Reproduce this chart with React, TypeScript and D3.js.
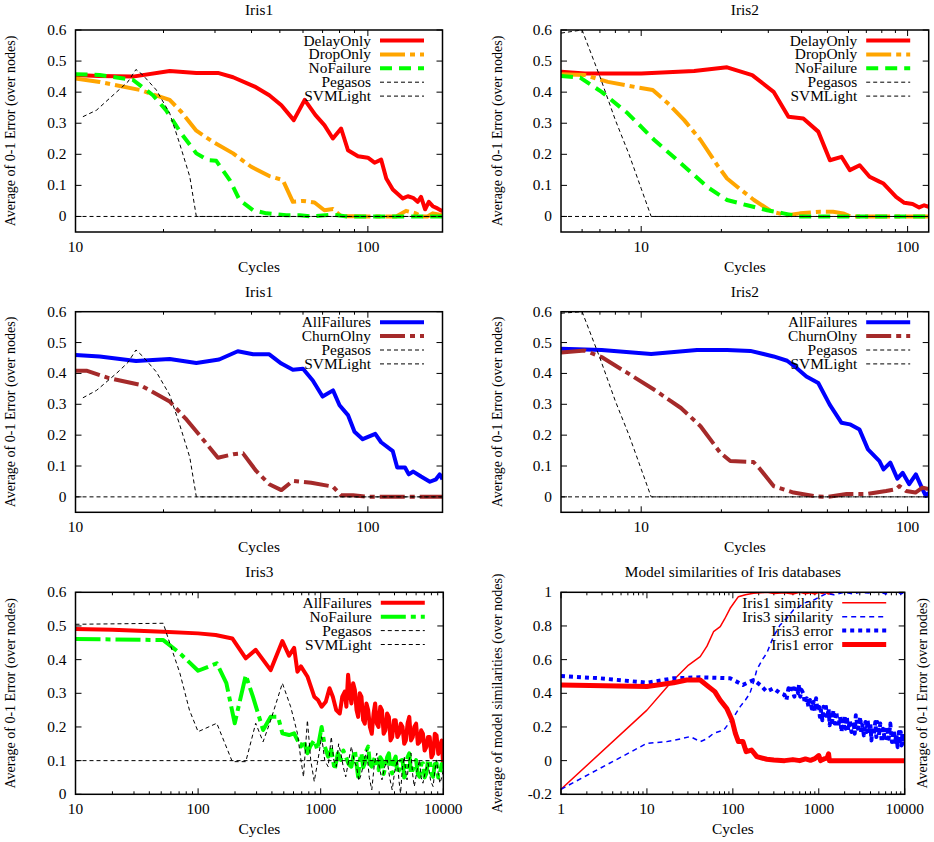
import React from 'react';
import * as d3 from 'd3';

type Pt = [number, number];

// ---------- Panel 1 : Iris1 (failure types) ----------
const p1DelayOnly: Pt[] = [[10,0.455],[12,0.452],[15.7,0.45],[21,0.468],[25.9,0.462],[30.7,0.462],[34.6,0.448],[41,0.418],[46,0.39],[50.6,0.358],[55.8,0.31],[60.8,0.375],[66.2,0.326],[71,0.294],[75.9,0.251],[81,0.283],[85.5,0.213],[92.5,0.194],[100,0.189],[105.4,0.173],[111,0.183],[115.6,0.122],[121.7,0.087],[131.7,0.058],[137,0.065],[142.7,0.06],[148,0.047],[152,0.063],[157,0.023],[161.6,0.047],[166.7,0.033],[173,0.026],[180,0.017]];
const p1DropOnly: Pt[] = [[10,0.444],[12.1,0.433],[16.6,0.407],[18.4,0.393],[21,0.375],[23,0.337],[25.9,0.276],[29.5,0.24],[34.6,0.203],[39.9,0.16],[46,0.13],[51.2,0.117],[55.4,0.047],[60,0.05],[65.7,0.045],[71,0.02],[76,0.024],[81,0.001],[89,0.001],[100,0],[125,0],[135,0.018],[146,0.01],[152,0],[160,0],[167,0.01],[180,0.004]];
const p1NoFailure: Pt[] = [[10,0.458],[12.1,0.455],[15.7,0.44],[18.4,0.39],[20.4,0.342],[23,0.267],[25.9,0.203],[28.4,0.181],[30.3,0.179],[33.7,0.117],[36.4,0.053],[40.5,0.02],[45,0.01],[52.6,0.004],[58.5,0.004],[64,0],[76,0.006],[85,0],[180,0]];
const p1Pegasos: Pt[] = [[10.6,0.321],[11.8,0.342],[13.8,0.4],[15.1,0.433],[16.1,0.473],[17,0.455],[18.9,0.407],[21,0.332],[22.7,0.235],[24.6,0.128],[25.9,0],[180,0]];
const p1SVMLight: Pt[] = [[10,0],[180,0]];

// ---------- Panel 2 : Iris2 (failure types) ----------
const p2DelayOnly: Pt[] = [[5,0.466],[6.15,0.46],[10,0.46],[15.8,0.468],[21,0.48],[26.1,0.455],[31.4,0.401],[35.7,0.321],[40.6,0.315],[46.2,0.273],[51.1,0.181],[56.5,0.192],[60.7,0.149],[66.1,0.165],[72,0.128],[78.4,0.112],[81.2,0.106],[90.5,0.063],[97.2,0.044],[104.4,0.04],[110.5,0.029],[115.4,0.036],[120,0.031]];
const p2DropOnly: Pt[] = [[5,0.458],[6.15,0.455],[7.5,0.433],[9.7,0.415],[11.05,0.407],[12.6,0.364],[14.5,0.31],[16.7,0.246],[19.3,0.165],[21,0.122],[23.6,0.087],[26.5,0.053],[31,0.015],[35.3,0.004],[39.4,0.01],[46.8,0.015],[52.5,0.015],[57.3,0.01],[61,0],[120,0]];
const p2NoFailure: Pt[] = [[5,0.452],[5.9,0.447],[7.1,0.401],[8.9,0.332],[11.2,0.246],[14.1,0.171],[17.7,0.095],[21,0.053],[25,0.036],[29.7,0.02],[34.2,0.01],[39,0],[120,0]];
const p2Pegasos: Pt[] = [[5,0.59],[6,0.6],[7,0.45],[8,0.31],[9,0.2],[10,0.09],[10.9,0],[120,0]];
const p2SVMLight: Pt[] = [[5,0],[120,0]];

// ---------- Panel 3 : Iris1 (all failures / churn) ----------
const p3AllFailures: Pt[] = [[10,0.46],[12.1,0.455],[16.1,0.44],[21,0.447],[25.9,0.434],[31,0.445],[35.9,0.472],[40.5,0.462],[46,0.462],[50.6,0.432],[55.4,0.412],[60,0.415],[64.8,0.377],[70,0.325],[76,0.345],[80,0.297],[85.5,0.265],[90,0.211],[96,0.187],[106,0.204],[111,0.177],[121.7,0.148],[126,0.095],[134,0.095],[138,0.073],[143,0.082],[152,0.066],[163,0.049],[171,0.057],[176,0.073],[180,0.057]];
const p3ChurnOlny: Pt[] = [[10,0.409],[10.9,0.409],[13,0.385],[16.6,0.363],[21,0.309],[24,0.25],[27.3,0.186],[30.7,0.127],[34.6,0.138],[37.4,0.141],[41.5,0.084],[46,0.041],[50.6,0.022],[55.4,0.052],[64,0.046],[76,0.033],[81,0.005],[89,0.005],[100,0],[180,0]];
const p3Pegasos: Pt[] = [[10.6,0.321],[11.8,0.345],[13.8,0.4],[15.1,0.435],[16.1,0.476],[17,0.455],[18.9,0.405],[21,0.33],[22.7,0.235],[24.6,0.128],[25.9,0],[180,0]];
const p3SVMLight: Pt[] = [[10,0],[180,0]];

// ---------- Panel 4 : Iris2 (all failures / churn) ----------
const p4AllFailures: Pt[] = [[5,0.48],[7.1,0.476],[10.9,0.463],[16.2,0.476],[21,0.476],[25.7,0.473],[31.4,0.455],[35.3,0.441],[38.4,0.417],[41.7,0.39],[46.2,0.369],[51,0.299],[56.5,0.24],[60.7,0.235],[66,0.218],[71,0.154],[78.4,0.116],[81.2,0.089],[86.1,0.111],[91.5,0.059],[95.8,0.078],[101.4,0.041],[107.4,0.073],[113.7,0.025],[117,0.003],[120,0.014]];
const p4ChurnOlny: Pt[] = [[5,0.468],[6.15,0.474],[7.1,0.453],[8.9,0.401],[11.2,0.347],[14.1,0.288],[16.7,0.229],[19.8,0.143],[21.6,0.116],[26.4,0.113],[28,0.089],[31.4,0.035],[37.3,0.014],[45.7,0.001],[50,0],[59,0.009],[70,0.009],[83,0.019],[90.5,0.025],[93.2,0.035],[98.6,0.019],[107,0.014],[113.7,0.03],[120,0.025]];
const p4Pegasos: Pt[] = [[5,0.595],[6,0.6],[7,0.45],[8,0.31],[9,0.2],[10,0.09],[10.9,0],[120,0]];
const p4SVMLight: Pt[] = [[5,0],[120,0]];

// ---------- Panel 5 : Iris3 ----------
const p5AllFailures: Pt[] = [[10,0.491],[20,0.489],[52,0.483],[100,0.478],[139,0.473],[190,0.463],[245,0.404],[295,0.429],[391,0.369],[487,0.455],[552,0.412],[607,0.435],[646,0.364],[690,0.38],[779,0.35],[886,0.29],[950,0.28],[1018,0.26],[1100,0.275],[1180,0.315],[1256,0.29],[1340,0.25],[1430,0.24],[1500,0.29],[1572,0.305],[1620,0.26],[1672,0.355],[1730,0.3],[1780,0.27],[1840,0.33],[1900,0.31],[1960,0.25],[2020,0.23],[2080,0.3],[2150,0.29],[2220,0.22],[2290,0.21],[2360,0.27],[2440,0.25],[2520,0.2],[2610,0.18],[2700,0.24],[2780,0.27],[2870,0.21],[2960,0.2],[3060,0.26],[3160,0.25],[3260,0.18],[3370,0.19],[3480,0.24],[3600,0.23],[3710,0.16],[3830,0.17],[3960,0.22],[4090,0.22],[4220,0.17],[4360,0.18],[4500,0.21],[4650,0.2],[4800,0.15],[4950,0.16],[5110,0.21],[5280,0.23],[5450,0.16],[5630,0.17],[5800,0.2],[6000,0.21],[6200,0.15],[6400,0.155],[6600,0.19],[6820,0.18],[7040,0.13],[7270,0.14],[7500,0.17],[7750,0.17],[8000,0.11],[8260,0.12],[8530,0.18],[8810,0.175],[9100,0.12],[9390,0.14],[9700,0.16],[10000,0.08]];
const p5NoFailure: Pt[] = [[10,0.461],[20,0.46],[52,0.458],[71,0.419],[100,0.367],[142,0.389],[170,0.33],[199,0.211],[245,0.354],[280,0.29],[339,0.191],[391,0.23],[449,0.23],[487,0.181],[552,0.176],[607,0.181],[646,0.161],[690,0.142],[724,0.161],[779,0.122],[820,0.142],[886,0.161],[940,0.132],[1018,0.2],[1080,0.142],[1150,0.112],[1220,0.132],[1300,0.072],[1380,0.122],[1460,0.102],[1530,0.13],[1600,0.112],[1690,0.09],[1780,0.082],[1840,0.11],[1900,0.132],[1960,0.09],[2020,0.052],[2080,0.1],[2150,0.122],[2220,0.08],[2290,0.092],[2360,0.13],[2440,0.142],[2520,0.09],[2610,0.082],[2700,0.1],[2780,0.112],[2870,0.08],[2960,0.072],[3060,0.11],[3160,0.102],[3260,0.06],[3370,0.082],[3480,0.11],[3600,0.122],[3710,0.08],[3830,0.062],[3960,0.1],[4090,0.112],[4220,0.06],[4360,0.072],[4500,0.1],[4650,0.102],[4800,0.05],[4950,0.062],[5110,0.11],[5280,0.122],[5450,0.06],[5630,0.072],[5800,0.09],[6000,0.102],[6200,0.06],[6400,0.052],[6600,0.09],[6820,0.092],[7040,0.05],[7270,0.062],[7500,0.1],[7750,0.102],[8000,0.06],[8260,0.052],[8530,0.09],[8810,0.092],[9100,0.05],[9390,0.062],[9700,0.09],[10000,0.077]];
const p5Pegasos: Pt[] = [[10,0.505],[52,0.508],[58.7,0.449],[71,0.36],[85,0.25],[100,0.186],[142,0.211],[190,0.097],[245,0.097],[295,0.211],[339,0.156],[391,0.22],[487,0.33],[569,0.26],[646,0.181],[690,0.102],[724,0.052],[779,0.22],[830,0.1],[886,0.038],[940,0.092],[1018,0.171],[1080,0.1],[1150,0.082],[1220,0.171],[1280,0.1],[1340,0.082],[1400,0.15],[1460,0.122],[1530,0.08],[1600,0.052],[1690,0.1],[1780,0.142],[1870,0.1],[1960,0.082],[2050,0.04],[2150,0.062],[2260,0.1],[2370,0.132],[2490,0.05],[2610,0.013],[2740,0.09],[2870,0.122],[3010,0.08],[3160,0.043],[3320,0.08],[3480,0.102],[3650,0.05],[3830,0.013],[4020,0.07],[4220,0.102],[4350,0.04],[4480,0.003],[4640,0.08],[4800,0.112],[4930,0.07],[5060,0.043],[5250,0.1],[5450,0.122],[5620,0.06],[5800,0.023],[6100,0.07],[6400,0.102],[6600,0.05],[6820,0.033],[7160,0.07],[7510,0.092],[7880,0.04],[8260,0.023],[8530,0.07],[8810,0.102],[9100,0.06],[9390,0.033],[9700,0.05],[10000,0.072]];
const p5SVMLight: Pt[] = [[10,0.1],[10000,0.1]];

// ---------- Panel 6 : Model similarities ----------
const p6Iris1Similarity: Pt[] = [[1,-0.17],[10,0.3],[18.7,0.46],[30.5,0.568],[41.7,0.618],[50,0.68],[59.6,0.766],[71.3,0.796],[80,0.84],[93,0.905],[116,0.974],[140,0.985],[174,0.994],[248,1.0],[300,0.993],[400,0.998],[500,0.99],[600,1.0],[700,0.992],[800,0.997],[900,0.99],[1000,1.0],[1100,0.993],[1200,0.998],[1300,0.99],[1500,1.0],[10000,1.0]];
const p6Iris3Similarity: Pt[] = [[1,-0.17],[10,0.103],[17,0.113],[25,0.13],[31.9,0.143],[41.7,0.113],[50,0.13],[59.6,0.162],[78.5,0.182],[103,0.261],[121.7,0.321],[140,0.36],[158,0.4],[175,0.47],[190,0.539],[220,0.6],[248,0.638],[297,0.737],[355,0.806],[425,0.846],[507,0.895],[580,0.91],[663,0.935],[870,0.954],[1000,0.97],[1240,0.994],[1500,0.985],[2000,1.0],[2500,0.99],[3000,1.0],[4000,0.995],[5000,1.005],[6000,0.99],[7000,1.0],[8000,1.01],[9000,0.99],[10000,1.0]];
const p6Iris3Error: Pt[] = [[1,0.503],[2.87,0.489],[10,0.463],[20.4,0.489],[41.7,0.495],[93,0.489],[131,0.45],[174,0.479],[208,0.45],[248,0.41],[297,0.43],[355,0.4],[400,0.39],[420,0.36],[444,0.43],[465,0.41],[487,0.45],[505,0.4],[520,0.38],[540,0.43],[555,0.44],[575,0.4],[590,0.455],[608,0.38],[630,0.42],[660,0.4],[690,0.34],[725,0.37],[760,0.32],[790,0.36],[830,0.31],[870,0.35],[900,0.29],[930,0.37],[965,0.3],[1000,0.34],[1030,0.26],[1060,0.3],[1100,0.24],[1133,0.32],[1170,0.27],[1200,0.34],[1250,0.25],[1300,0.31],[1340,0.21],[1380,0.27],[1430,0.23],[1480,0.3],[1530,0.22],[1600,0.29],[1680,0.2],[1770,0.26],[1840,0.17],[1900,0.24],[1960,0.2],[2000,0.27],[2060,0.19],[2120,0.26],[2200,0.18],[2300,0.24],[2400,0.17],[2540,0.23],[2620,0.16],[2700,0.27],[2850,0.19],[3050,0.26],[3120,0.16],[3200,0.22],[3350,0.15],[3490,0.23],[3600,0.17],[3700,0.24],[3850,0.16],[3980,0.22],[4100,0.12],[4200,0.2],[4380,0.15],[4550,0.23],[4680,0.14],[4800,0.23],[5000,0.15],[5200,0.22],[5400,0.11],[5600,0.19],[5900,0.12],[6230,0.2],[6500,0.13],[6800,0.22],[7100,0.11],[7460,0.18],[7700,0.1],[8000,0.16],[8270,0.08],[8540,0.17],[8800,0.1],[9000,0.17],[9200,0.09],[9390,0.16],[9700,0.09],[10000,0.11]];
const p6Iris1Error: Pt[] = [[1,0.45],[10,0.44],[20.4,0.463],[29,0.479],[41.7,0.479],[49,0.45],[61.7,0.41],[71,0.36],[85,0.31],[98,0.24],[107,0.162],[116,0.113],[131,0.113],[143,0.053],[165,0.063],[190,0.024],[248,0.008],[300,0.004],[400,0.0],[500,0.006],[600,0.0],[700,0.01],[800,0.002],[900,0.012],[1000,0.03],[1050,0.0],[1150,0.01],[1250,0.015],[1300,0.04],[1330,0.0],[10000,0.0]];

// ---------- tick labels ----------
const errTicks = [0, 0.1, 0.2, 0.3, 0.4, 0.5, 0.6];
const simTicks = [-0.2, 0, 0.2, 0.4, 0.6, 0.8, 1];
const xTicksShort = [10, 100];
const xTicksLong = [10, 100, 1000, 10000];
const xTicksSim = [1, 10, 100, 1000, 10000];

const FONT = '"Liberation Serif", "Times New Roman", Times, serif';
const RED = '#ff0000', ORANGE = '#ffa500', GREEN = '#00ff00', BLUE = '#0000ff', BROWN = '#a52a2a';
const DASHDOT = '25,5,5,5';
const THIN = '4,3';

interface Series { label: string; data: Pt[]; color: string; width: number; dash?: string; }

interface PanelProps {
  id: string;
  left: number; right: number; top: number; bottom: number;
  xDomain: [number, number]; yDomain: [number, number];
  xTicks: number[]; yTicks: number[];
  title: string; ylabel: string; ylabelX: number;
  y2label?: string; y2labelX?: number;
  series: Series[];
}

const fmtY = (v: number) => (Math.abs(v) < 1e-9 ? '0' : String(+v.toFixed(1)));

function HText(props: { x: number; y: number; anchor: string; children: React.ReactNode; size?: number }) {
  return (
    <text transform={`translate(${props.x},${props.y}) scale(1.1,1)`} textAnchor={props.anchor}
      fontFamily={FONT} fontSize={props.size ?? 14} fill="#000">{props.children}</text>
  );
}

function Panel(p: PanelProps) {
  const x = d3.scaleLog().domain(p.xDomain).range([p.left, p.right]);
  const y = d3.scaleLinear().domain(p.yDomain).range([p.bottom, p.top]);
  const line = d3.line<Pt>().x(d => x(d[0])).y(d => y(d[1]));
  const minor: number[] = [];
  const e0 = Math.floor(Math.log10(p.xDomain[0]));
  const e1 = Math.ceil(Math.log10(p.xDomain[1]));
  for (let e = e0; e <= e1; e++) {
    for (let m = 2; m <= 9; m++) {
      const v = m * Math.pow(10, e);
      if (v > p.xDomain[0] && v < p.xDomain[1]) minor.push(v);
    }
  }
  const cx = (p.left + p.right) / 2;
  const cy = (p.top + p.bottom) / 2;
  const MAJ = 6, MIN = 3;
  return (
    <g>
      <defs>
        <clipPath id={`clip-${p.id}`}>
          <rect x={p.left} y={p.top} width={p.right - p.left} height={p.bottom - p.top} />
        </clipPath>
      </defs>
      <g stroke="#000" strokeWidth={1}>
        {p.yTicks.map(t => (
          <g key={`yt${t}`}>
            <line x1={p.left} x2={p.left + MAJ} y1={y(t)} y2={y(t)} />
            <line x1={p.right} x2={p.right - MAJ} y1={y(t)} y2={y(t)} />
          </g>
        ))}
        {p.xTicks.map(t => (
          <g key={`xt${t}`}>
            <line x1={x(t)} x2={x(t)} y1={p.bottom} y2={p.bottom - MAJ} />
            <line x1={x(t)} x2={x(t)} y1={p.top} y2={p.top + MAJ} />
          </g>
        ))}
        {minor.map(t => (
          <g key={`mt${t}`}>
            <line x1={x(t)} x2={x(t)} y1={p.bottom} y2={p.bottom - MIN} />
            <line x1={x(t)} x2={x(t)} y1={p.top} y2={p.top + MIN} />
          </g>
        ))}
      </g>
      <g clipPath={`url(#clip-${p.id})`} fill="none">
        {p.series.map(s => (
          <path key={s.label} d={line(s.data) || ''} stroke={s.color} strokeWidth={s.width}
            strokeDasharray={s.dash} strokeLinejoin="round" strokeLinecap="butt" />
        ))}
      </g>
      <rect x={p.left} y={p.top} width={p.right - p.left} height={p.bottom - p.top}
        fill="none" stroke="#000" strokeWidth={1.5} />
      {p.yTicks.map(t => (
        <HText key={`yl${t}`} x={p.left - 9} y={y(t) + 5} anchor="end">{fmtY(t)}</HText>
      ))}
      {p.xTicks.map(t => (
        <HText key={`xl${t}`} x={x(t)} y={p.bottom + 19.5} anchor="middle">{String(t)}</HText>
      ))}
      <HText x={cx} y={p.bottom + 39.5} anchor="middle">Cycles</HText>
      <HText x={cx} y={p.top - 15} anchor="middle">{p.title}</HText>
      <text transform={`translate(${p.ylabelX},${cy}) rotate(-90)`} dy="0.35em" textAnchor="middle"
        fontFamily={FONT} fontSize={14}>{p.ylabel}</text>
      {p.y2label && (
        <text transform={`translate(${p.y2labelX},${cy}) rotate(-90)`} dy="0.35em" textAnchor="middle"
          fontFamily={FONT} fontSize={14}>{p.y2label}</text>
      )}
      {p.series.map((s, i) => {
        const ly = p.top + 10.5 + i * 13.9;
        return (
          <g key={`lg${s.label}`}>
            <HText x={p.right - 71.5} y={ly + 5} anchor="end">{s.label}</HText>
            <line x1={p.right - 62.5} x2={p.right - 18.5} y1={ly} y2={ly} stroke={s.color}
              strokeWidth={s.width} strokeDasharray={s.dash} />
          </g>
        );
      })}
    </g>
  );
}

const YLAB = 'Average of 0-1 Error (over nodes)';

export default function App() {
  const L1 = 75.5, R1 = 442.5, L2 = 561, R2 = 928.7;
  return (
    <svg width={934} height={842} style={{ position: 'absolute', left: 0, top: 0, background: '#fff' }}>
      <rect width={934} height={842} fill="#fff" />
      <Panel id="p1" left={L1} right={R1} top={30} bottom={232} xDomain={[10, 180]} yDomain={[-0.05, 0.6]}
        xTicks={xTicksShort} yTicks={errTicks} title="Iris1" ylabel={YLAB} ylabelX={10}
        series={[
          { label: 'DelayOnly', data: p1DelayOnly, color: RED, width: 4 },
          { label: 'DropOnly', data: p1DropOnly, color: ORANGE, width: 4, dash: DASHDOT },
          { label: 'NoFailure', data: p1NoFailure, color: GREEN, width: 4, dash: '12,7' },
          { label: 'Pegasos', data: p1Pegasos, color: '#000', width: 1, dash: THIN },
          { label: 'SVMLight', data: p1SVMLight, color: '#000', width: 1, dash: THIN },
        ]} />
      <Panel id="p2" left={L2} right={R2} top={30} bottom={232} xDomain={[5, 120]} yDomain={[-0.05, 0.6]}
        xTicks={xTicksShort} yTicks={errTicks} title="Iris2" ylabel={YLAB} ylabelX={497}
        series={[
          { label: 'DelayOnly', data: p2DelayOnly, color: RED, width: 4 },
          { label: 'DropOnly', data: p2DropOnly, color: ORANGE, width: 4, dash: DASHDOT },
          { label: 'NoFailure', data: p2NoFailure, color: GREEN, width: 4, dash: '12,7' },
          { label: 'Pegasos', data: p2Pegasos, color: '#000', width: 1, dash: THIN },
          { label: 'SVMLight', data: p2SVMLight, color: '#000', width: 1, dash: THIN },
        ]} />
      <Panel id="p3" left={L1} right={R1} top={311.7} bottom={512.3} xDomain={[10, 180]} yDomain={[-0.05, 0.6]}
        xTicks={xTicksShort} yTicks={errTicks} title="Iris1" ylabel={YLAB} ylabelX={10}
        series={[
          { label: 'AllFailures', data: p3AllFailures, color: BLUE, width: 4 },
          { label: 'ChurnOlny', data: p3ChurnOlny, color: BROWN, width: 4, dash: DASHDOT },
          { label: 'Pegasos', data: p3Pegasos, color: '#000', width: 1, dash: THIN },
          { label: 'SVMLight', data: p3SVMLight, color: '#000', width: 1, dash: THIN },
        ]} />
      <Panel id="p4" left={L2} right={R2} top={311.7} bottom={512.3} xDomain={[5, 120]} yDomain={[-0.05, 0.6]}
        xTicks={xTicksShort} yTicks={errTicks} title="Iris2" ylabel={YLAB} ylabelX={497}
        series={[
          { label: 'AllFailures', data: p4AllFailures, color: BLUE, width: 4 },
          { label: 'ChurnOlny', data: p4ChurnOlny, color: BROWN, width: 4, dash: DASHDOT },
          { label: 'Pegasos', data: p4Pegasos, color: '#000', width: 1, dash: THIN },
          { label: 'SVMLight', data: p4SVMLight, color: '#000', width: 1, dash: THIN },
        ]} />
      <Panel id="p5" left={L1} right={443.3} top={592.3} bottom={794.3} xDomain={[10, 10000]} yDomain={[0, 0.6]}
        xTicks={xTicksLong} yTicks={errTicks} title="Iris3" ylabel={YLAB} ylabelX={10}
        series={[
          { label: 'AllFailures', data: p5AllFailures, color: RED, width: 4 },
          { label: 'NoFailure', data: p5NoFailure, color: GREEN, width: 4, dash: DASHDOT },
          { label: 'Pegasos', data: p5Pegasos, color: '#000', width: 1, dash: THIN },
          { label: 'SVMLight', data: p5SVMLight, color: '#000', width: 1, dash: THIN },
        ]} />
      <Panel id="p6" left={L2} right={904.7} top={592.3} bottom={794.3} xDomain={[1, 10000]} yDomain={[-0.2, 1]}
        xTicks={xTicksSim} yTicks={simTicks} title="Model similarities of Iris databases"
        ylabel="Average of model similarities (over nodes)" ylabelX={497}
        y2label={YLAB} y2labelX={922}
        series={[
          { label: 'Iris1 similarity', data: p6Iris1Similarity, color: RED, width: 1.5 },
          { label: 'Iris3 similarity', data: p6Iris3Similarity, color: BLUE, width: 1.5, dash: '5,4' },
          { label: 'Iris3 error', data: p6Iris3Error, color: BLUE, width: 4, dash: '4,4' },
          { label: 'Iris1 error', data: p6Iris1Error, color: RED, width: 5 },
        ]} />
    </svg>
  );
}
